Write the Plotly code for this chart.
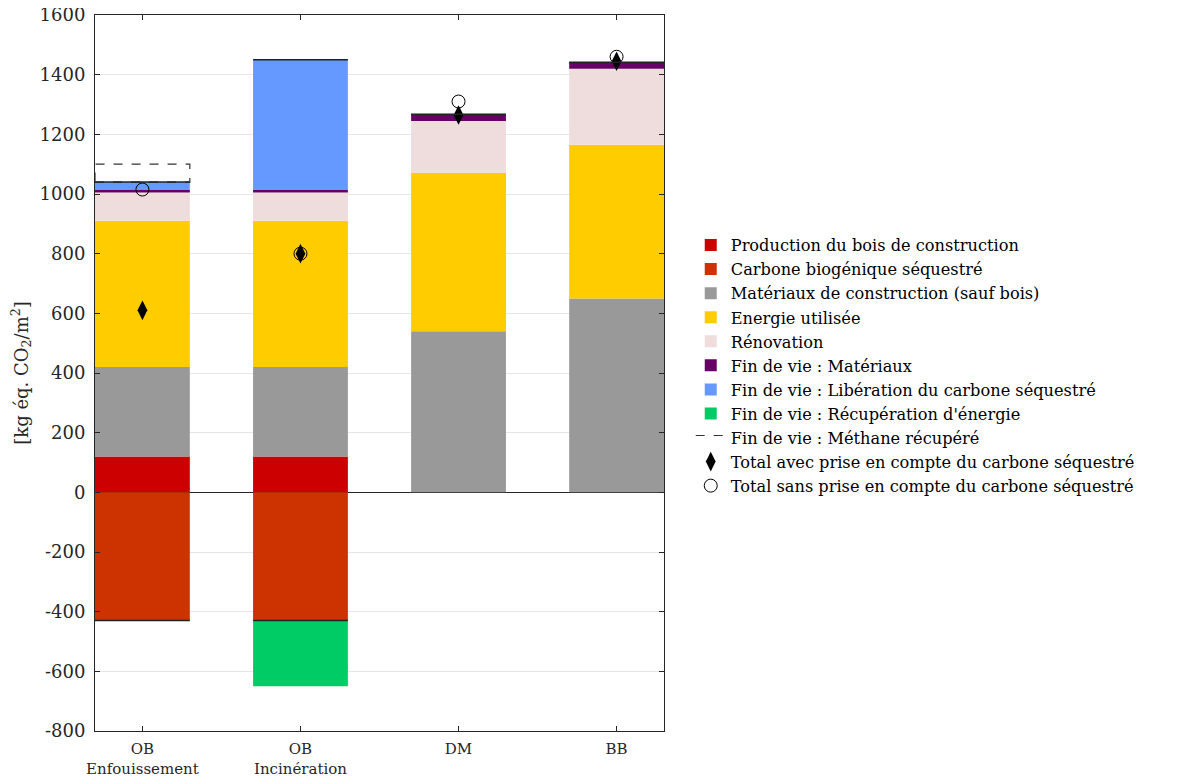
import plotly.graph_objects as go

categories = ["OB<br>Enfouissement", "OB<br>Incinération", "DM", "BB"]
prod_bois = [120, 120, 0, 0]
carbone_bio = [-430, -430, 0, 0]
materiaux = [300, 300, 540, 650]
energie = [490, 490, 530, 515]
renovation = [95, 95, 175, 255]
fdv_materiaux = [10, 10, 22, 22]
fdv_liberation = [25, 435, 0, 0]
fdv_recuperation = [0, -220, 0, 0]
fdv_methane = [60, 0, 0, 0]
total_avec = [610, 800, 1265, 1445]
total_sans = [1015, 800, 1310, 1460]
y_ticks = [-800, -600, -400, -200, 0, 200, 400, 600, 800, 1000, 1200, 1400, 1600]

xpos = [1, 2, 3, 4]
bar_w = 0.6
FONT = "DejaVu Serif"
TXT = "#262626"

series = [
    ("Production du bois de construction", prod_bois, "#CC0000"),
    ("Carbone biogénique séquestré", carbone_bio, "#CC3300"),
    ("Matériaux de construction (sauf bois)", materiaux, "#999999"),
    ("Energie utilisée", energie, "#FFCC00"),
    ("Rénovation", renovation, "#EFDDDE"),
    ("Fin de vie : Matériaux", fdv_materiaux, "#660066"),
    ("Fin de vie : Libération du carbone séquestré", fdv_liberation, "#6699FF"),
    ("Fin de vie : Récupération d'énergie", fdv_recuperation, "#00CC66"),
]

fig = go.Figure()
for name, vals, col in series:
    fig.add_trace(go.Bar(x=xpos, y=vals, name=name, width=bar_w,
                         marker=dict(color=col, line=dict(width=0))))

# stack tops / bottoms computed from data
pos_top = [sum(v[i] for _, v, _ in series if v[i] > 0) for i in range(4)]
bio_bottom = carbone_bio

# methane dashed box
mx, my = [], []
for i in range(4):
    if fdv_methane[i] > 0:
        x0, x1 = xpos[i] - bar_w / 2, xpos[i] + bar_w / 2
        y0, y1 = pos_top[i], pos_top[i] + fdv_methane[i]
        mx += [x0, x1, x1, x0, x0, None]
        my += [y0, y0, y1, y1, y0, None]
fig.add_trace(go.Scatter(x=mx, y=my, mode="lines", fill="toself", fillcolor="rgba(255,255,255,0)",
                         line=dict(color="#333333", width=1.2, dash="dash"),
                         name="Fin de vie : Méthane récupéré"))

fig.add_trace(go.Scatter(x=xpos, y=total_avec, mode="markers", name="Total avec prise en compte du carbone séquestré",
                         marker=dict(symbol="diamond-tall", size=14, color="black")))
fig.add_trace(go.Scatter(x=xpos, y=total_sans, mode="markers", name="Total sans prise en compte du carbone séquestré",
                         marker=dict(symbol="circle-open", size=13, color="black", line=dict(width=1))))

shapes = []
for i in range(4):
    shapes.append(dict(type="line", xref="x", yref="y", x0=xpos[i] - bar_w / 2, x1=xpos[i] + bar_w / 2,
                       y0=pos_top[i], y1=pos_top[i], line=dict(color="#222222", width=1.5)))
    if bio_bottom[i] < 0:
        shapes.append(dict(type="line", xref="x", yref="y", x0=xpos[i] - bar_w / 2, x1=xpos[i] + bar_w / 2,
                           y0=bio_bottom[i], y1=bio_bottom[i], line=dict(color="#222222", width=1.5)))

fig.update_layout(
    barmode="relative",
    width=1196, height=773,
    margin=dict(l=87, r=540, t=7, b=50),
    plot_bgcolor="white", paper_bgcolor="white",
    font=dict(family=FONT, size=15, color=TXT),
    shapes=shapes,
    legend=dict(x=1.047, y=0.7025, xanchor="left", yanchor="top", font=dict(size=16.2, color="black"),
                bgcolor="rgba(0,0,0,0)", tracegroupgap=0, itemwidth=30),
    showlegend=True,
)
fig.update_xaxes(range=[0.7, 4.3], tickvals=xpos, ticktext=categories, showgrid=False, automargin=False,
                 showline=True, linecolor="#262626", mirror="ticks", ticks="inside", ticklen=5,
                 tickcolor="#262626", tickfont=dict(size=15, color=TXT), ticklabelstandoff=4)
fig.update_yaxes(range=[-800, 1600], tickvals=y_ticks, ticktext=[str(v) for v in y_ticks],
                 showgrid=True, gridcolor="#E6E6E6", automargin=False, ticklabeloverflow="allow",
                 showline=True, linecolor="#262626", mirror="ticks", ticks="inside", ticklen=5,
                 tickcolor="#262626", zeroline=True, zerolinecolor="#262626", zerolinewidth=1,
                 tickfont=dict(size=18, color=TXT), ticklabelstandoff=5,
                 title=dict(text="[kg éq. CO<sub>2</sub>/m<sup>2</sup>]", font=dict(size=18, color=TXT), standoff=8))

fig.write_html("out.html")
